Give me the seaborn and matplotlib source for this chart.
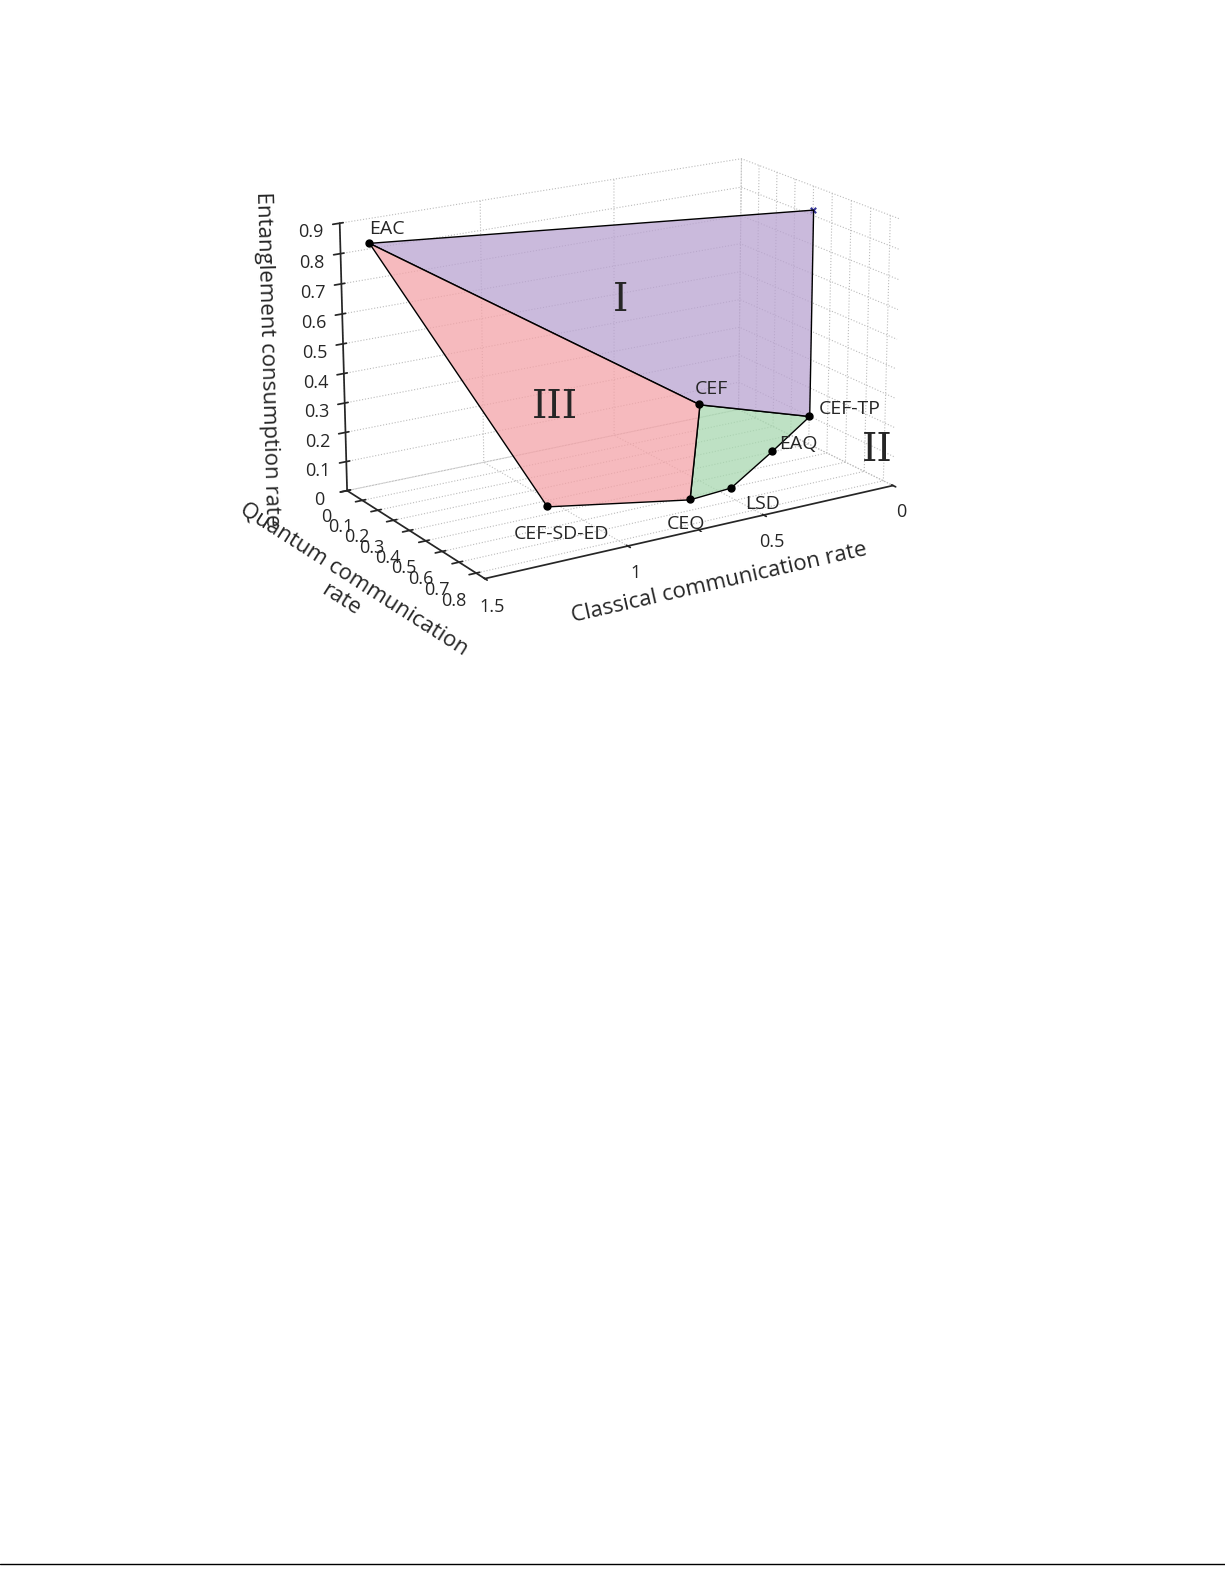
import matplotlib
matplotlib.use("Agg")
import matplotlib.pyplot as plt
import seaborn as sns
from mpl_toolkits.mplot3d.art3d import Poly3DCollection

sns.set_theme(style="white")
plt.rcParams['font.family'] = ['Open Sans', 'DejaVu Sans']

names = ["EAC", "CEF-SD-ED", "CEQ", "LSD", "EAQ", "CEF-TP", "CEF"]
classical = [1.40, 1.10, 0.62, 0.45, 0.22, 0.00, 0.40]
quantum = [0.00, 0.55, 0.62, 0.60, 0.50, 0.40, 0.35]
entangle = [0.82, 0.05, 0.00, 0.00, 0.05, 0.10, 0.20]
top_point = (0.00, 0.40, 0.82)

P = {n: (c, q, e) for n, c, q, e in zip(names, classical, quantum, entangle)}

fig = plt.figure(figsize=(12.25, 15.85), dpi=100)
ax = fig.add_axes([0.06, 0.58, 0.88, 0.38], projection='3d')

regions = [
    ([P["EAC"], top_point, P["CEF-TP"], P["CEF"]], "#b9a3d1"),
    ([P["EAC"], P["CEF"], P["CEQ"], P["CEF-SD-ED"]], "#f4a3a8"),
    ([P["CEF"], P["CEF-TP"], P["EAQ"], P["LSD"], P["CEQ"]], "#a8d8b0"),
]
for verts, col in regions:
    pc = Poly3DCollection([verts], facecolor=col, edgecolor='black', linewidth=1.0, alpha=0.75)
    ax.add_collection3d(pc)

ax.scatter(classical, quantum, entangle, color='black', s=25, depthshade=False)
ax.scatter([top_point[0]], [top_point[1]], [top_point[2]], marker='x', color='#333399', s=15)

offsets = {"EAC": (0.0, 0, 0.03), "CEF-SD-ED": (0.15, 0.05, -0.06), "CEQ": (0.12, 0.05, -0.06),
           "LSD": (-0.02, 0.05, -0.06), "EAQ": (-0.03, 0.0, 0.0), "CEF-TP": (-0.04, 0, 0.0),
           "CEF": (0.02, 0, 0.04)}
for n, (c, q, e) in P.items():
    dx, dy, dz = offsets[n]
    ax.text(c + dx, q + dy, e + dz, n, fontsize=14, zorder=10)

ax.text(0.6, 0.15, 0.5, "I", fontsize=28, family='DejaVu Serif', zorder=10)
ax.text(1.0, 0.3, 0.25, "III", fontsize=28, family='DejaVu Serif', zorder=10)
ax.text(-0.05, 0.62, 0.0, "II", fontsize=28, family='DejaVu Serif', zorder=10)

ax.set_xlim(0, 1.5)
ax.set_ylim(0, 0.85)
ax.set_zlim(0, 0.9)
ax.set_xticks([0, 0.5, 1, 1.5])
ax.set_xticklabels(["0", "0.5", "1", "1.5"])
ax.set_yticks([0, 0.1, 0.2, 0.3, 0.4, 0.5, 0.6, 0.7, 0.8])
ax.set_yticklabels(["0", "0.1", "0.2", "0.3", "0.4", "0.5", "0.6", "0.7", "0.8"])
ax.set_zticks([0, 0.1, 0.2, 0.3, 0.4, 0.5, 0.6, 0.7, 0.8, 0.9])
ax.set_zticklabels(["0", "0.1", "0.2", "0.3", "0.4", "0.5", "0.6", "0.7", "0.8", "0.9"])
ax.tick_params(labelsize=13)
ax.set_xlabel("Classical communication rate", fontsize=16, labelpad=12)
ax.set_ylabel("Quantum communication\nrate", fontsize=16, labelpad=14)
ax.set_zlabel("Entanglement consumption rate", fontsize=16, labelpad=10)
for a in (ax.xaxis, ax.yaxis, ax.zaxis):
    a.pane.fill = False
    a.pane.set_edgecolor('none')
    a._axinfo['grid'].update(color='#bbbbbb', linestyle=':', linewidth=0.8)
ax.grid(True)
ax.view_init(elev=18, azim=58)
ax.set_box_aspect((1.7, 1.0, 1.0))

fig.add_artist(plt.Line2D([0.0, 1.0], [0.013, 0.013], color='black', linewidth=1))
fig.savefig("out.png", dpi=100)
